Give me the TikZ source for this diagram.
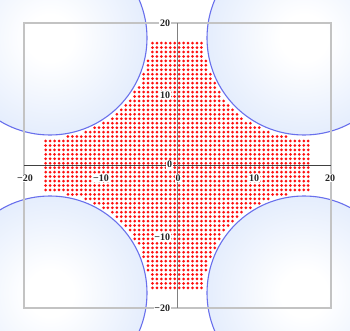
\documentclass[tikz,border=0pt]{standalone}
\usepackage{fontspec}
\setmainfont{Liberation Serif}
\definecolor{edgeblue}{RGB}{194,214,250}
\definecolor{ringblue}{RGB}{105,112,236}
\definecolor{dotred}{RGB}{255,15,15}
\definecolor{framegray}{RGB}{195,195,195}
\pgfdeclareradialshading{ballshade}{\pgfpoint{0bp}{0bp}}{color(0bp)=(white); color(6bp)=(white); color(50bp)=(edgeblue)}
\tikzset{
  ball/.style={shading=ballshade, draw=ringblue, line width=1.1pt},
  tick/.style={font=\bfseries\fontsize{10}{10}\selectfont, text=black!85, fill=white, inner sep=0.8pt},
  axisx/.style={draw=black!75, line width=0.8pt},
  axisy/.style={draw=black!50, line width=1pt},
  frame/.style={draw=framegray, line width=1.2pt}
}
\begin{document}
\begin{tikzpicture}[x=1pt,y=-1pt]
\useasboundingbox (0,0) rectangle (350,331);
\clip (0,0) rectangle (350,331);
% circles
\path[ball] (50,38) circle (97);
\path[ball] (304,38) circle (97);
\path[ball] (50,293) circle (97);
\path[ball] (304,293) circle (97);
% frame
\draw[frame] (24,23) rectangle (331,308);
% dots
\foreach \i in {0,...,59}{
  \foreach \j in {0,...,55}{
    \pgfmathsetmacro\px{45.65+4.45*\i}
    \pgfmathsetmacro\py{43.1+4.45*\j}
    \pgfmathsetmacro\ddx{(abs(\px-177)-127)/10}
    \pgfmathsetmacro\ddy{(abs(\py-165.5)-127.5)/10}
    \pgfmathtruncatemacro\keep{(\ddx*\ddx+\ddy*\ddy>100)?1:0}
    \ifnum\keep=1 \fill[dotred] (\px,\py) circle (1.5);\fi
  }
}
% axes
\coordinate (xl) at (24,165.5);
\coordinate (xr) at (331,165.5);
\coordinate (yt) at (177,23);
\coordinate (yb) at (177,308);
\draw[axisx] (xl) -- (xr);
\draw[axisy] (yt) -- (yb);
% tick labels
\node[tick] (xm20) at (25,178) {−20};
\node[tick] (xm10) at (101,178) {−10};
\node[tick] (x0) at (178,178) {0};
\node[tick] (x10) at (254,178) {10};
\node[tick] (x20) at (330,178) {20};
\node[tick, anchor=east] (y20) at (171,23) {20};
\node[tick, anchor=east] (y10) at (171,95) {10};
\node[tick, anchor=east] (y0) at (173,164.5) {0};
\node[tick, anchor=east] (ym10) at (171,237) {−10};
\node[tick, anchor=east] (ym20) at (171,308) {−20};
\end{tikzpicture}
\end{document}
